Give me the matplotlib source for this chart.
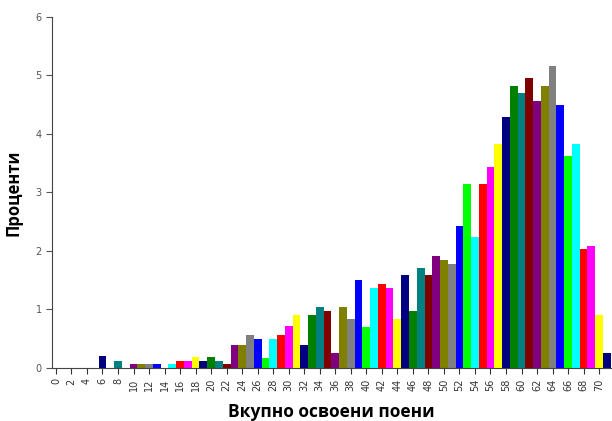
import matplotlib
matplotlib.use('Agg')
import matplotlib.pyplot as plt

# points (0..71) and percent of students
poeni = list(range(0, 72))
procenti = [0, 0, 0, 0, 0, 0, 0.2, 0, 0.12, 0,
            0.07, 0.06, 0.06, 0.06, 0, 0.07, 0.12, 0.12, 0.18, 0.12,
            0.19, 0.12, 0.06, 0.39, 0.39, 0.57, 0.5, 0.17, 0.5, 0.57,
            0.71, 0.91, 0.39, 0.91, 1.04, 0.97, 0.25, 1.04, 0.83, 1.51,
            0.7, 1.37, 1.44, 1.37, 0.84, 1.58, 0.97, 1.71, 1.59, 1.92,
            1.85, 1.77, 2.43, 3.15, 2.24, 3.15, 3.44, 3.82, 4.29, 4.82,
            4.69, 4.96, 4.56, 4.82, 5.16, 4.5, 3.62, 3.82, 2.03, 2.09,
            0.9, 0.26]
tick_vals = list(range(0, 71, 2))

boi = ['#000080', '#008000', '#008080', '#800000', '#800080', '#808000', '#808080',
       '#0000FF', '#00FF00', '#00FFFF', '#FF0000', '#FF00FF', '#FFFF00']
bar_colors = [boi[(p - 6) % len(boi)] for p in poeni]

fig = plt.figure(figsize=(6.12, 4.21), dpi=100)
ax = fig.add_axes([0.085, 0.126, 0.913, 0.834])

ax.bar(poeni, procenti, width=1.0, color=bar_colors, align='center')

ax.set_xlim(-0.5, 71.5)
ax.set_ylim(0, 6)
ax.set_yticks(range(0, 7))
ax.set_xticks(tick_vals)
ax.set_xticklabels([str(t) for t in tick_vals], rotation=90)
ax.tick_params(axis='both', labelsize=7, colors='#333333', length=4, width=0.8)
ax.tick_params(axis='y', colors='#555555')

for s in ['top', 'right']:
    ax.spines[s].set_visible(False)
for s in ['left', 'bottom']:
    ax.spines[s].set_color('#444444')
    ax.spines[s].set_linewidth(0.8)

ax.set_xlabel('Вкупно освоени поени', fontsize=12.5, fontweight='bold',
              family='Open Sans', labelpad=9)
ax.set_ylabel('Проценти', fontsize=12, fontweight='bold',
              family='Open Sans', labelpad=9)

fig.savefig('out.png', dpi=100)
